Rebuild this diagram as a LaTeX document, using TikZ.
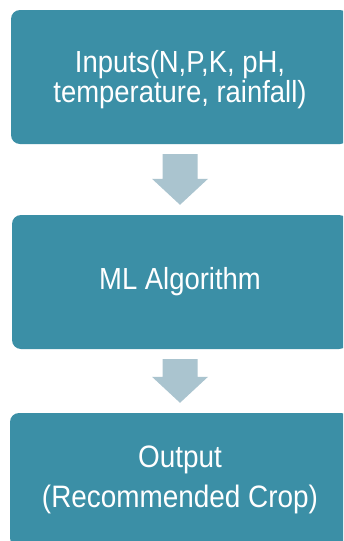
\documentclass[tikz,border=0pt]{standalone}
\usepackage{fontspec}
\setmainfont{Liberation Sans}[FakeStretch=0.9]
\usetikzlibrary{calc}
\definecolor{boxteal}{RGB}{59,143,166}
\definecolor{arrowgrey}{RGB}{170,196,207}
\newcommand\stagearrow[2]{%
  \fill[flowarrow] ($(#1.south)+(-17.5,10)$) -- ($(#1.south)+(17.5,10)$)
    -- ($(#2.north)+(17.5,-36)$) -- ($(#2.north)+(28,-36)$)
    -- ($(#2.north)+(0,-10)$) -- ($(#2.north)+(-28,-36)$)
    -- ($(#2.north)+(-17.5,-36)$) -- cycle;}
\begin{document}
\begin{tikzpicture}[x=1pt,y=-1pt,
  stagebox/.style={fill=boxteal, rounded corners=9pt, minimum height=134pt,
    inner sep=0pt, text=white, align=center,
    font=\fontsize{30.5}{30}\selectfont},
  stagetext/.style={text=white, align=center, inner sep=0pt,
    font=\fontsize{30.5}{30}\selectfont},
  flowarrow/.style={fill=arrowgrey}]
\useasboundingbox (0,0) rectangle (343,541);
\fill[white] (0,0) rectangle (343,541);
\clip (0,0) rectangle (343,541);
\node[stagebox, minimum width=338pt] (inputs) at (180,77) {};
\node[stagetext] (inputstext) at (180,79.5)
  {Inputs(N,P,K, pH,\\temperature, rainfall)};
\node[stagebox, minimum width=336pt] (ml) at (180,282) {ML Algorithm};
\node[stagebox, minimum width=340pt, font=\fontsize{31}{40}\selectfont]
  (output) at (180,480) {Output\\(Recommended Crop)};
\stagearrow{inputs}{ml}
\stagearrow{ml}{output}
\end{tikzpicture}
\end{document}
